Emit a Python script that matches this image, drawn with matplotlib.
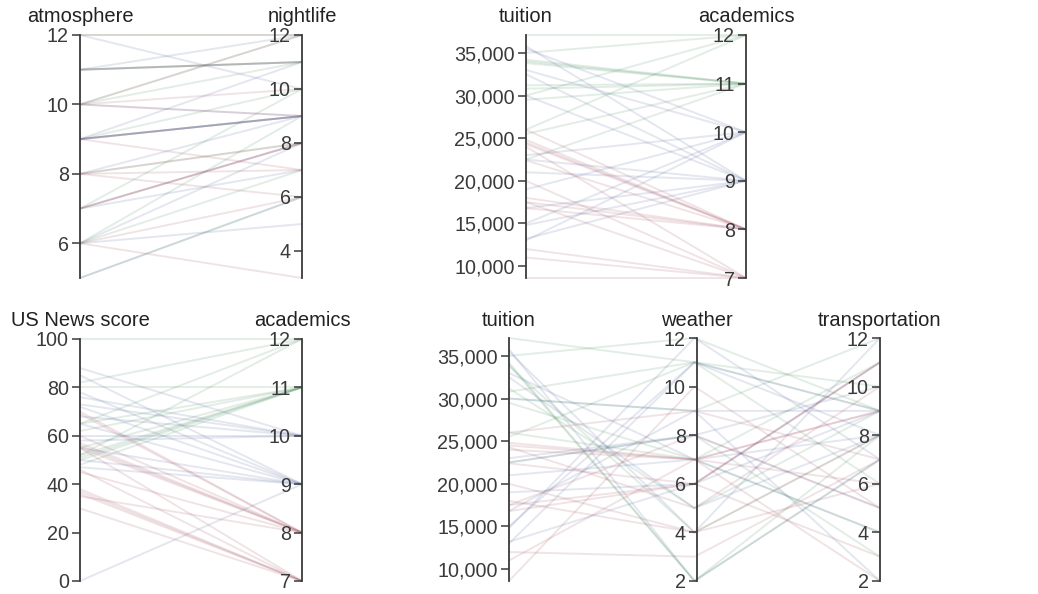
import numpy as np
import matplotlib
matplotlib.use("Agg")
import matplotlib.pyplot as plt
from matplotlib.ticker import FuncFormatter

plt.rcParams['font.family'] = ['Liberation Sans', 'DejaVu Sans']

# one entry per college
tuition = [37100, 35000, 30000, 26000,
           34200, 34000, 33800, 31200, 30800, 29500, 25500, 22500,
           35500, 33000, 23000, 15000, 13000, 19000,
           35800, 32500, 30000, 22500, 16800, 14800, 13200, 21000,
           24800, 24500, 24300, 22400, 18000, 17500, 16800, 26000,
           24000, 20000, 17500, 12000, 11000, 8600]
academics = [12, 12, 12, 12,
             11, 11, 11, 11, 11, 11, 11, 11,
             10, 10, 10, 10, 10, 10,
             9, 9, 9, 9, 9, 9, 9, 9,
             8, 8, 8, 8, 8, 8, 8, 8,
             7, 7, 7, 7, 7, 7]
usnews = [100, 82, 65, 52,
          52, 51, 50, 80, 48, 65, 62, 55,
          88, 76, 73, 68, 60, 58,
          85, 78, 72, 65, 55, 50, 47, 0,
          70, 69, 57, 56, 55, 45, 35, 60,
          46, 38, 37, 36, 30, 55]
atmosphere = [12, 11, 10, 6,
              11, 9, 9, 8, 10, 7, 5, 6,
              12, 9, 7, 6, 8, 10,
              11, 9, 9, 7, 6, 9, 11, 5,
              8, 9, 10, 8, 7, 11, 6, 10,
              8, 6, 10, 12, 7, 9]
nightlife = [12, 11, 12, 9,
             11, 10, 9, 8, 11, 10, 6, 7,
             10, 9, 7, 5, 9, 9,
             12, 11, 9, 8, 8, 9, 11, 6,
             7, 9, 9, 6, 8, 11, 6, 10,
             8, 3, 12, 12, 8, 7]
weather = [11, 12, 9, 7,
           2, 2, 4, 5, 11, 7, 11, 8,
           4, 7, 8, 11, 11, 6,
           2, 5, 9, 8, 9, 12, 6, 7,
           7, 7, 5, 6, 4, 8, 6, 9,
           7, 4, 6, 3, 7, 10]
transportation = [10, 9, 12, 11,
                  8, 7, 8, 9, 6, 4, 9, 3,
                  12, 8, 5, 9, 8, 11,
                  7, 8, 2, 10, 9, 7, 9, 4,
                  6, 9, 10, 11, 8, 5, 3, 7,
                  9, 6, 11, 7, 2, 5]

data = {'tuition': tuition, 'academics': academics, 'US News score': usnews,
        'atmosphere': atmosphere, 'nightlife': nightlife,
        'weather': weather, 'transportation': transportation}

ticks = {'tuition': [10000, 15000, 20000, 25000, 30000, 35000],
         'academics': [7, 8, 9, 10, 11, 12],
         'US News score': [0, 20, 40, 60, 80, 100],
         'atmosphere': [6, 8, 10, 12],
         'nightlife': [4, 6, 8, 10, 12],
         'weather': [2, 4, 6, 8, 10, 12],
         'transportation': [2, 4, 6, 8, 10, 12]}

# panels: dimensions, axis x positions (px), top/bottom (px)
panels = [(['atmosphere', 'nightlife'], [80, 302], 35, 278),
          (['tuition', 'academics'], [526, 746], 35, 278),
          (['US News score', 'academics'], [80, 302], 339, 581),
          (['tuition', 'weather', 'transportation'], [509, 697, 880], 338, 581)]

W, H = 1038, 594
fig = plt.figure(figsize=(W / 100, H / 100), dpi=100)


def color_of(a):
    if a >= 11:
        return '#3f8a55'
    if a >= 9:
        return '#4a5f9a'
    return '#a04858'


fmt = FuncFormatter(lambda v, p: f'{int(v):,}')

for dims, xs, top, bot in panels:
    # lines layer
    ax = fig.add_axes([xs[0] / W, 1 - bot / H, (xs[-1] - xs[0]) / W, (bot - top) / H])
    ax.set_xlim(0, len(dims) - 1)
    ax.set_ylim(0, 1)
    ax.axis('off')
    norm = []
    for d in dims:
        v = np.array(data[d], dtype=float)
        norm.append((v - v.min()) / (v.max() - v.min()))
    norm = np.array(norm)
    for i in range(norm.shape[1]):
        ax.plot(range(len(dims)), norm[:, i], color=color_of(academics[i]),
                alpha=0.15, lw=1.4, solid_capstyle='butt', clip_on=False)

    # one vertical axis per dimension
    for d, x in zip(dims, xs):
        v = data[d]
        a = fig.add_axes([x / W, 1 - bot / H, 0.0001, (bot - top) / H])
        a.patch.set_visible(False)
        for s in ['top', 'right', 'bottom']:
            a.spines[s].set_visible(False)
        a.spines['left'].set_color('#3a3a3a')
        a.spines['left'].set_linewidth(1.3)
        a.set_xticks([])
        a.set_ylim(min(v), max(v))
        a.set_yticks(ticks[d])
        if d == 'tuition':
            a.yaxis.set_major_formatter(fmt)
        a.tick_params(axis='y', length=6, width=1.1, color='#3a3a3a',
                      labelsize=14.2, labelcolor='#3a3a3a', pad=2)
        fig.text(x / W, 1 - (top - 18) / H, d, ha='center', va='center',
                 fontsize=14.5, color='#222222')

fig.savefig('out.png', dpi=100, facecolor='white')
